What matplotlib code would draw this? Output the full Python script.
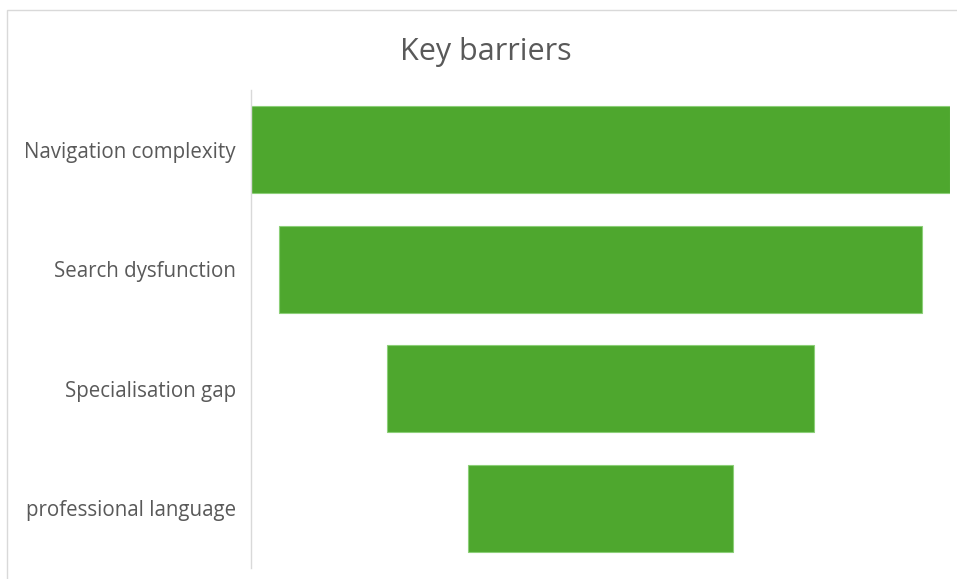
import matplotlib.pyplot as plt
from matplotlib.patches import Rectangle

# funnel data (top to bottom)
categories = ["Navigation complexity", "Search dysfunction",
              "Specialisation gap", "professional language"]
values = [100, 92, 61, 38]

plt.rcParams['font.family'] = ['Open Sans', 'DejaVu Sans']

fig = plt.figure(figsize=(9.57, 5.79), dpi=100)
W, H = 957, 579

# chart area frame (only top/left visible in the crop)
fig.patches.append(Rectangle((7.5 / W, -0.5), 2, 1.5 - 9.5 / H,
                             transform=fig.transFigure, fill=False,
                             edgecolor='#d9d9d9', linewidth=1.0))

ax = fig.add_axes([251 / W, 1 - 568 / H, (950 - 251) / W, (568 - 90) / H])

vmax = max(values)
pos = list(range(len(categories)))
lefts = [(vmax - v) / 2 for v in values]
ax.barh(pos, values, left=lefts, height=0.73, color='#4ea72e',
        edgecolor='#8ccf78', linewidth=0.8)

ax.set_xlim(0, vmax)
ax.set_ylim(len(categories) - 0.5, -0.5)
ax.set_yticks(pos)
ax.set_yticklabels(categories, fontsize=14.8, color='#595959')
ax.tick_params(axis='y', length=0, pad=11)
ax.set_xticks([])

for side in ['top', 'right', 'bottom']:
    ax.spines[side].set_visible(False)
ax.spines['left'].set_color('#d9d9d9')
ax.spines['left'].set_linewidth(1.0)

fig.text(486 / W, 1 - 52 / H, "Key barriers", ha='center', va='center',
         fontsize=22, color='#595959')

fig.savefig("out.png", dpi=100)
